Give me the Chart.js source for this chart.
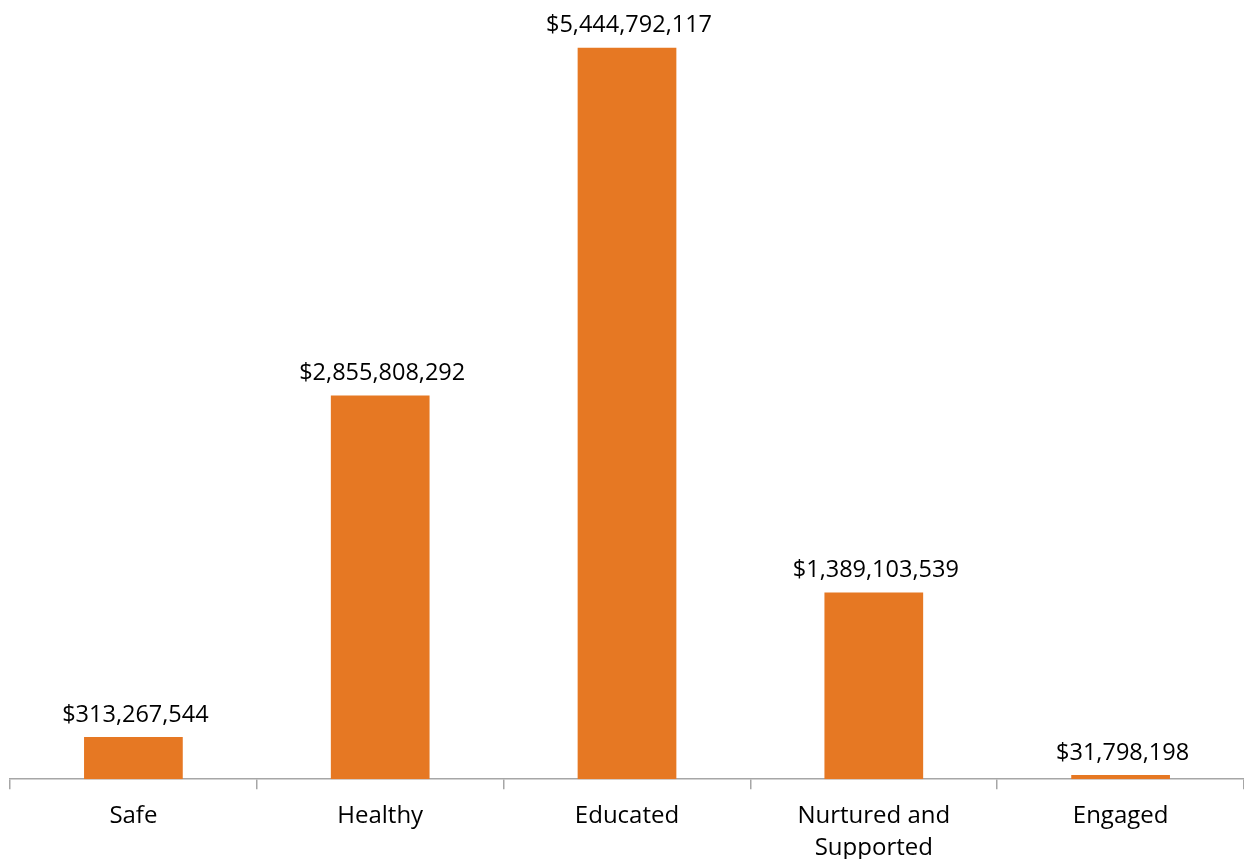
<!DOCTYPE html>
<html>
<head>
<meta charset="utf-8">
<script src="https://cdn.jsdelivr.net/npm/chart.js@4"></script>
<style>
  html, body { margin: 0; padding: 0; background: #ffffff; overflow: hidden; }
  #wrap { width: 1244px; height: 875px; }
</style>
</head>
<body>
<div id="wrap"><canvas id="fundingChart" width="1244" height="875"></canvas></div>
<script>
// Spending by outcome area
const categories = ['Safe', 'Healthy', 'Educated', ['Nurtured and', 'Supported'], 'Engaged'];
const spending = [313267544, 2855808292, 5444792117, 1389103539, 31798198];

const barColor = '#E67823';
const axisColor = '#A6A6A6';
const fontFamily = '"Open Sans", "Noto Sans", sans-serif';

// Draw dollar labels above each bar
const valueLabels = {
    id: 'valueLabels',
    afterDatasetsDraw(chart) {
        const ctx = chart.ctx;
        const meta = chart.getDatasetMeta(0);
        ctx.save();
        ctx.font = '23.5px ' + fontFamily;
        ctx.fillStyle = '#000000';
        ctx.textAlign = 'center';
        ctx.textBaseline = 'middle';
        meta.data.forEach((bar, i) => {
            const text = '$' + spending[i].toLocaleString('en-US');
            ctx.fillText(text, bar.x + 2, bar.y - 22);
        });
        ctx.restore();
    }
};

const fundingCtx = document.getElementById('fundingChart');
const fundingChart = new Chart(fundingCtx.getContext('2d'), {
    type: 'bar',
    data: {
        labels: categories,
        datasets: [{
            data: spending,
            backgroundColor: barColor,
            borderWidth: 0,
            categoryPercentage: 1.0,
            barPercentage: 0.4
        }]
    },
    options: {
        responsive: false,
        animation: false,
        layout: { padding: { left: 10, right: 0, top: 0, bottom: 0 } },
        plugins: {
            legend: { display: false },
            tooltip: { enabled: false }
        },
        scales: {
            x: {
                offset: true,
                grid: {
                    offset: true,
                    drawOnChartArea: false,
                    drawTicks: true,
                    tickLength: 10,
                    color: axisColor,
                    lineWidth: 1.5
                },
                border: { display: true, color: axisColor, width: 1.5 },
                ticks: {
                    color: '#000000',
                    padding: 11,
                    maxRotation: 0,
                    autoSkip: false,
                    font: { family: fontFamily, size: 24, lineHeight: 1.33 }
                }
            },
            y: {
                display: false,
                min: 0,
                max: 5800000000
            }
        }
    },
    plugins: [valueLabels]
});
</script>
</body>
</html>
